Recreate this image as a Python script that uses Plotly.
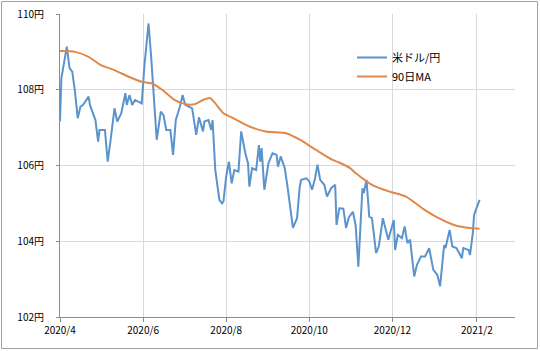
import plotly.graph_objects as go

# ---- data ----
usd_dates = [
    "2020-04-01", "2020-04-02", "2020-04-06", "2020-04-08", "2020-04-10", "2020-04-12",
    "2020-04-14", "2020-04-16", "2020-04-18", "2020-04-22", "2020-04-23", "2020-04-27",
    "2020-04-29", "2020-04-30", "2020-05-04", "2020-05-06", "2020-05-08", "2020-05-11",
    "2020-05-13", "2020-05-15", "2020-05-16", "2020-05-19", "2020-05-20", "2020-05-22",
    "2020-05-24", "2020-05-26", "2020-05-28", "2020-05-31", "2020-06-02", "2020-06-05",
    "2020-06-07", "2020-06-09", "2020-06-11", "2020-06-14", "2020-06-16", "2020-06-18",
    "2020-06-21", "2020-06-23", "2020-06-25", "2020-06-28", "2020-06-30", "2020-07-02",
    "2020-07-05", "2020-07-07", "2020-07-10", "2020-07-12", "2020-07-15", "2020-07-16",
    "2020-07-19", "2020-07-21", "2020-07-22", "2020-07-24", "2020-07-27", "2020-07-29",
    "2020-07-30", "2020-08-01", "2020-08-03", "2020-08-05", "2020-08-07", "2020-08-10",
    "2020-08-12", "2020-08-15", "2020-08-17", "2020-08-18", "2020-08-20", "2020-08-23",
    "2020-08-25", "2020-08-26", "2020-08-27", "2020-08-29", "2020-09-01", "2020-09-04",
    "2020-09-07", "2020-09-08", "2020-09-10", "2020-09-13", "2020-09-15", "2020-09-17",
    "2020-09-19", "2020-09-22", "2020-09-24", "2020-09-25", "2020-09-29", "2020-10-01",
    "2020-10-03", "2020-10-05", "2020-10-07", "2020-10-09", "2020-10-12", "2020-10-14",
    "2020-10-17", "2020-10-20", "2020-10-21", "2020-10-23", "2020-10-26", "2020-10-28",
    "2020-10-30", "2020-11-02", "2020-11-04", "2020-11-06", "2020-11-09", "2020-11-10",
    "2020-11-12", "2020-11-14", "2020-11-16", "2020-11-19", "2020-11-21", "2020-11-24",
    "2020-11-28", "2020-12-02", "2020-12-03", "2020-12-05", "2020-12-08", "2020-12-10",
    "2020-12-12", "2020-12-14", "2020-12-17", "2020-12-19", "2020-12-22", "2020-12-25",
    "2020-12-28", "2020-12-31", "2021-01-03", "2021-01-05", "2021-01-08", "2021-01-09",
    "2021-01-12", "2021-01-14", "2021-01-17", "2021-01-19", "2021-01-21", "2021-01-22",
    "2021-01-26", "2021-01-27", "2021-01-29", "2021-01-30", "2021-02-03",
]
usd_values = [
    107.16, 108.30, 109.14, 108.57, 108.48, 107.95,
    107.25, 107.55, 107.60, 107.82, 107.60, 107.20,
    106.63, 106.94, 106.94, 106.10, 106.63, 107.51,
    107.16, 107.33, 107.38, 107.91, 107.60, 107.86,
    107.60, 107.73, 107.69, 107.64, 108.65, 109.75,
    108.83, 107.60, 106.68, 107.42, 107.33, 106.94,
    106.94, 106.28, 107.20, 107.55, 107.86, 107.60,
    107.55, 107.51, 106.81, 107.27, 106.90, 107.16,
    107.20, 106.94, 107.20, 105.88, 105.09, 105.00,
    105.05, 105.71, 106.10, 105.53, 105.88, 105.84,
    106.90, 106.33, 106.06, 105.44, 105.93, 105.88,
    106.54, 106.10, 106.46, 105.36, 106.06, 106.32,
    106.28, 105.97, 106.24, 105.93, 105.44, 104.83,
    104.35, 104.61, 105.44, 105.62, 105.66, 105.58,
    105.36, 105.62, 106.02, 105.62, 105.49, 105.18,
    105.40, 105.49, 104.43, 104.87, 104.86, 104.35,
    104.63, 104.78, 104.43, 103.33, 105.40, 105.27,
    105.62, 104.65, 104.61, 103.69, 103.86, 104.61,
    104.04, 104.56, 103.77, 104.17, 104.08, 104.39,
    103.95, 104.04, 103.07, 103.38, 103.60, 103.60,
    103.82, 103.25, 103.11, 102.81, 103.90, 103.82,
    104.30, 103.86, 103.82, 103.69, 103.55, 103.82,
    103.77, 103.64, 104.21, 104.70, 105.09,
]

ma_dates = [
    "2020-04-01", "2020-04-12", "2020-04-22", "2020-05-01", "2020-05-11", "2020-05-21",
    "2020-05-31", "2020-06-07", "2020-06-15", "2020-06-24", "2020-07-02", "2020-07-09",
    "2020-07-15", "2020-07-20", "2020-07-24", "2020-07-30", "2020-08-06", "2020-08-18",
    "2020-08-30", "2020-09-14", "2020-09-24", "2020-10-06", "2020-10-18", "2020-10-23",
    "2020-10-31", "2020-11-04", "2020-11-16", "2020-11-29", "2020-12-11", "2020-12-23",
    "2021-01-04", "2021-01-17", "2021-01-27", "2021-02-03",
]
ma_values = [
    109.02, 109.00, 108.87, 108.65, 108.52, 108.35,
    108.21, 108.17, 108.00, 107.73, 107.62, 107.62,
    107.73, 107.78, 107.64, 107.38, 107.25, 107.03,
    106.90, 106.85, 106.68, 106.41, 106.15, 106.08,
    105.93, 105.80, 105.49, 105.31, 105.18, 104.87,
    104.61, 104.41, 104.35, 104.33,
]

series_names = ["米ドル/円", "90日MA"]
x_tick_dates = ["2020-04-01", "2020-06-01", "2020-08-01", "2020-10-01", "2020-12-01", "2021-02-01"]
x_tick_labels = ["2020/4", "2020/6", "2020/8", "2020/10", "2020/12", "2021/2"]
y_tick_values = [102, 104, 106, 108, 110]
y_tick_labels = ["102円", "104円", "106円", "108円", "110円"]

# ---- figure ----
FONT = "Noto Sans CJK JP"
W, H = 540, 351
L, R, T, B = 60, 25, 14, 34

fig = go.Figure()
fig.add_trace(go.Scatter(x=usd_dates, y=usd_values, mode="lines", name=series_names[0],
                         line=dict(color="#5b93cd", width=2)))
fig.add_trace(go.Scatter(x=ma_dates, y=ma_values, mode="lines", name=series_names[1],
                         line=dict(color="#e0884a", width=2, shape="spline", smoothing=0.6)))

pw, ph = W - L - R, H - T - B
def px_to_paper_x(px):
    return (px - L) / pw
def px_to_paper_y(py):
    return (H - B - py) / ph

fig.add_shape(type="rect", xref="paper", yref="paper",
              x0=px_to_paper_x(1.5), x1=px_to_paper_x(537.5),
              y0=px_to_paper_y(348.5), y1=px_to_paper_y(1.5),
              line=dict(color="#a0a0a0", width=1), fillcolor="rgba(0,0,0,0)", layer="below")

fig.update_layout(
    width=W, height=H,
    margin=dict(l=L, r=R, t=T, b=B, pad=0, autoexpand=False),
    paper_bgcolor="white", plot_bgcolor="white",
    font=dict(family=FONT, size=10, color="#000000"),
    showlegend=True,
    legend=dict(x=px_to_paper_x(352), y=px_to_paper_y(43), xanchor="left", yanchor="top",
                bgcolor="rgba(0,0,0,0)", font=dict(family=FONT, size=11, color="#000000"),
                tracegroupgap=0, itemwidth=30),
    xaxis=dict(type="date", range=["2020-04-01", "2021-03-01"],
               tickmode="array", tickvals=x_tick_dates, ticktext=x_tick_labels,
               showgrid=True, gridcolor="#d9d9d9", gridwidth=1,
               showline=True, linecolor="#8c8c8c", linewidth=1,
               ticks="outside", ticklen=4, tickcolor="#8c8c8c",
               tickfont=dict(family=FONT, size=10, color="#000000"),
               zeroline=False, fixedrange=True, automargin=False),
    yaxis=dict(range=[102, 110], tickmode="array", tickvals=y_tick_values, ticktext=y_tick_labels,
               showgrid=True, gridcolor="#d9d9d9", gridwidth=1,
               showline=True, linecolor="#8c8c8c", linewidth=1,
               ticks="outside", ticklen=3, tickcolor="#8c8c8c",
               tickfont=dict(family=FONT, size=10, color="#000000"),
               ticklabelstandoff=10,
               zeroline=False, fixedrange=True, automargin=False),
)

fig.write_html("out.html")
